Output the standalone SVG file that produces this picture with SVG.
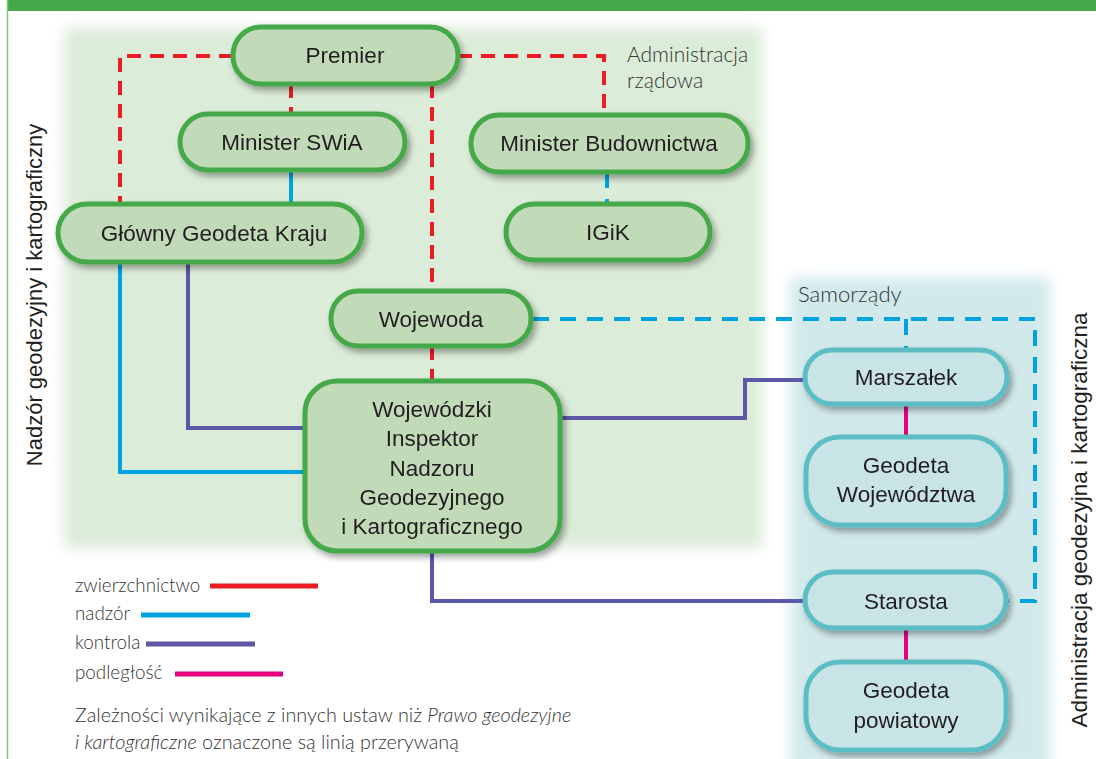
<svg xmlns="http://www.w3.org/2000/svg" width="1096" height="759" viewBox="0 0 1096 759">
<defs>
<style>
.n{font-family:"Liberation Sans","DejaVu Sans",sans-serif;font-size:22.5px;fill:#231f20;text-anchor:middle}
.l{font-family:Lato,"Liberation Sans",sans-serif;font-weight:300;font-size:18.8px;fill:#333}
.g{fill:#c1dbb8;stroke:#45a84a;stroke-width:5}
.b{fill:#c8e4e6;stroke:#5cbec4;stroke-width:5}
.c{fill:none;stroke-width:4}
.red{stroke:#ed1c24;stroke-dasharray:14 9}
.nad{stroke:#00a3e0}
.nadd{stroke:#00a3e0;stroke-dasharray:16 11}
.kon{stroke:#5c57a6}
.pod{stroke:#e6007e}
</style>
<filter id="sh" x="-20%" y="-20%" width="140%" height="150%">
<feDropShadow dx="3" dy="4" stdDeviation="3" flood-color="#000" flood-opacity="0.35"/>
</filter>
<filter id="bl" x="-10%" y="-10%" width="120%" height="120%">
<feGaussianBlur stdDeviation="7"/>
</filter>
</defs>
<rect width="1096" height="759" fill="#fff"/>
<rect x="7" y="0" width="1089" height="11" fill="#45a84a"/>
<line x1="7.5" y1="0" x2="7.5" y2="759" stroke="#7cc47c" stroke-width="1.5"/>
<rect x="64" y="28" width="698" height="520" fill="#dbecd8" filter="url(#bl)"/>
<rect x="790" y="278" width="260" height="490" fill="#d2e9ec" filter="url(#bl)"/>

<g id="connectors">
<path class="c red" d="M233,56 H120 V204"/>
<path class="c red" d="M458,56 H604 V116"/>
<path class="c red" d="M291,84 V115"/>
<path class="c red" d="M432,84 V291"/>
<path class="c red" d="M432,346 V381"/>
<path class="c nad" d="M291,170 V204"/>
<path class="c nadd" d="M607,172 V205"/>
<path class="c nad" d="M120,262 V472 H305"/>
<path class="c kon" d="M188,262 V428 H305"/>
<path class="c nadd" d="M533,319 H1035 V601 H1008"/>
<path class="c nadd" d="M906,319 V350"/>
<path class="c kon" d="M560,418 H745 V380 H805"/>
<path class="c kon" d="M432,551 V601 H805"/>
<path class="c pod" d="M906,404 V437"/>
<path class="c pod" d="M906,628 V662"/>
</g>

<g id="premier" filter="url(#sh)"><rect class="g" x="233" y="27" width="225" height="57" rx="28"/><text class="n" x="345" y="63">Premier</text></g>
<g id="minister-swia" filter="url(#sh)"><rect class="g" x="180" y="114" width="225" height="56" rx="28"/><text class="n" x="292" y="150">Minister SWiA</text></g>
<g id="minister-budownictwa" filter="url(#sh)"><rect class="g" x="471" y="115" width="277" height="57" rx="28"/><text class="n" x="609" y="151">Minister Budownictwa</text></g>
<g id="glowny-geodeta" filter="url(#sh)"><rect class="g" x="58" y="204" width="304" height="58" rx="29"/><text class="n" x="214" y="241">Główny Geodeta Kraju</text></g>
<g id="igik" filter="url(#sh)"><rect class="g" x="506" y="204" width="204" height="56" rx="28"/><text class="n" x="608" y="240">IGiK</text></g>
<g id="wojewoda" filter="url(#sh)"><rect class="g" x="331" y="291" width="200" height="55" rx="27"/><text class="n" x="431" y="327">Wojewoda</text></g>
<g id="wingik" filter="url(#sh)"><rect class="g" x="305" y="381" width="255" height="170" rx="32"/>
<text class="n" x="432" y="417">Wojewódzki</text>
<text class="n" x="432" y="446">Inspektor</text>
<text class="n" x="432" y="476">Nadzoru</text>
<text class="n" x="432" y="505">Geodezyjnego</text>
<text class="n" x="432" y="534">i Kartograficznego</text></g>
<g id="marszalek" filter="url(#sh)"><rect class="b" x="805" y="350" width="202" height="54" rx="27"/><text class="n" x="906" y="385">Marszałek</text></g>
<g id="geodeta-wojewodztwa" filter="url(#sh)"><rect class="b" x="806" y="437" width="200" height="88" rx="34"/><text class="n" x="906" y="473">Geodeta</text><text class="n" x="906" y="502">Województwa</text></g>
<g id="starosta" filter="url(#sh)"><rect class="b" x="805" y="572" width="201" height="56" rx="28"/><text class="n" x="906" y="609">Starosta</text></g>
<g id="geodeta-powiatowy" filter="url(#sh)"><rect class="b" x="806" y="662" width="200" height="88" rx="34"/><text class="n" x="906" y="698">Geodeta</text><text class="n" x="906" y="728">powiatowy</text></g>

<g id="labels">
<text class="l" x="627" y="62" style="font-size:21px">Administracja</text>
<text class="l" x="627" y="88" style="font-size:21px">rządowa</text>
<text class="l" x="798" y="302" style="font-size:22px">Samorządy</text>
<text class="n" transform="translate(42,295) rotate(-90)" style="font-size:22px">Nadzór geodezyjny i kartograficzny</text>
<text class="n" transform="translate(1087,520) rotate(-90)">Administracja geodezyjna i kartograficzna</text>
</g>

<g id="legend">
<text class="l" x="75" y="592">zwierzchnictwo</text>
<line x1="210" y1="586" x2="318" y2="586" stroke="#ed1c24" stroke-width="5"/>
<text class="l" x="75" y="620">nadzór</text>
<line x1="141" y1="615" x2="250" y2="615" stroke="#00a3e0" stroke-width="5"/>
<text class="l" x="75" y="649">kontrola</text>
<line x1="146" y1="644" x2="255" y2="644" stroke="#5c57a6" stroke-width="5"/>
<text class="l" x="75" y="679">podległość</text>
<line x1="175" y1="674" x2="283" y2="674" stroke="#e6007e" stroke-width="5"/>
<text class="l" x="75" y="722" style="font-size:19.8px">Zależności wynikające z innych ustaw niż <tspan font-style="italic">Prawo geodezyjne</tspan></text>
<text class="l" x="75" y="749" style="font-size:19.8px"><tspan font-style="italic">i kartograficzne</tspan> oznaczone są linią przerywaną</text>
</g>
</svg>
